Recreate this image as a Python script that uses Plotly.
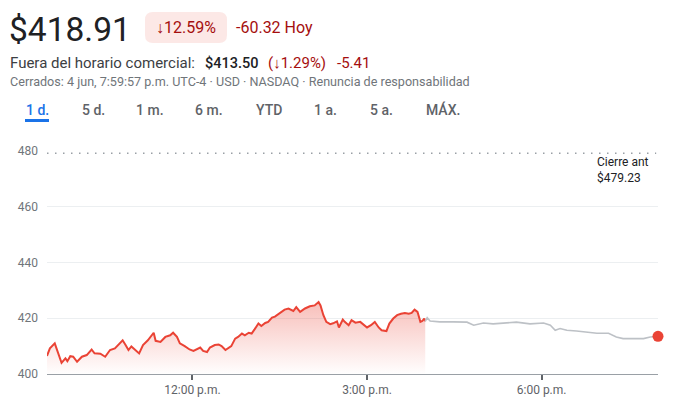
import plotly.graph_objects as go

# ---------------- data ----------------
DAY = "2024-06-04 "
session_times = ["09:30", "09:33", "09:38", "09:42", "09:45", "09:49", "09:51", "09:54", "09:57", "10:01",
                 "10:06", "10:11", "10:16", "10:19", "10:25", "10:30", "10:35", "10:40", "10:45", "10:48",
                 "10:51", "10:54", "10:57", "11:01", "11:05", "11:09", "11:14", "11:20", "11:22", "11:27",
                 "11:32", "11:37", "11:40", "11:44", "11:47", "11:52", "11:57", "12:01", "12:04", "12:08",
                 "12:11", "12:15", "12:18", "12:23", "12:27", "12:30", "12:34", "12:37", "12:40", "12:44",
                 "12:47", "12:51", "12:54", "12:58", "13:01", "13:04", "13:08", "13:11", "13:15", "13:18",
                 "13:22", "13:25", "13:28", "13:32", "13:35", "13:39", "13:44", "13:47", "13:51", "13:56",
                 "14:01", "14:06", "14:10", "14:12", "14:15", "14:18", "14:22", "14:25", "14:29", "14:31",
                 "14:35", "14:37", "14:41", "14:44", "14:48", "14:53", "14:56", "15:00", "15:04", "15:08",
                 "15:12", "15:15", "15:20", "15:23", "15:27", "15:31", "15:35", "15:39", "15:43", "15:46",
                 "15:49", "15:52", "15:55", "15:57", "15:59", "16:00"]
session_prices = [406.5, 409.2, 411.0, 407.4, 404.0, 405.6, 404.6, 406.4, 406.2, 404.4,
                  406.2, 406.8, 408.8, 407.4, 407.3, 406.2, 408.6, 409.2, 411.2, 412.1,
                  410.4, 408.6, 409.9, 408.6, 407.4, 410.4, 412.1, 414.8, 411.9, 411.5,
                  413.3, 413.9, 414.8, 413.3, 411.0, 410.0, 408.8, 408.3, 408.8, 409.5,
                  408.3, 407.9, 409.5, 410.4, 410.6, 410.0, 408.6, 409.2, 410.0, 412.7,
                  413.3, 414.5, 413.9, 414.8, 414.5, 416.0, 418.1, 417.2, 418.3, 418.7,
                  420.2, 420.6, 421.4, 422.3, 423.1, 423.5, 422.6, 424.0, 422.3, 423.5,
                  424.3, 424.6, 425.8, 424.6, 421.1, 418.7, 417.9, 418.2, 418.9, 416.7,
                  419.5, 418.7, 417.5, 419.3, 418.4, 418.7, 417.9, 416.7, 417.5, 418.7,
                  416.7, 415.7, 415.4, 418.1, 419.9, 421.1, 421.6, 421.9, 421.6, 421.9,
                  423.1, 422.3, 418.7, 419.0, 419.9, 418.91]

after_times = ["16:00", "16:02", "16:05", "16:15", "16:29", "16:43", "16:50", "17:00", "17:10", "17:24",
               "17:34", "17:48", "18:02", "18:09", "18:14", "18:19", "18:26", "18:36", "18:46", "18:57",
               "19:09", "19:17", "19:24", "19:34", "19:45", "19:52", "20:00"]
after_prices = [418.91, 420.2, 419.0, 418.7, 418.7, 418.6, 417.5, 418.3, 418.0, 418.3,
                418.6, 418.0, 418.3, 417.5, 415.7, 416.3, 415.7, 415.4, 415.0, 414.6,
                414.6, 413.3, 412.7, 412.7, 412.7, 413.3, 413.5]

prev_close = 479.23
y_ticks = [400, 420, 440, 460, 480]
x_tick_times = ["12:00", "15:00", "18:00"]
x_tick_labels = ["12:00 p.m.", "3:00 p.m.", "6:00 p.m."]
tabs = ["1 d.", "5 d.", "1 m.", "6 m.", "YTD", "1 a.", "5 a.", "MÁX."]

# ---------------- layout helpers ----------------
W, H = 682, 408
ML, MR, MT, MB = 47, 24, 151, 34
PW, PH = W - ML - MR, H - MT - MB


def px(x):
    return (x - ML) / PW


def py(y):
    return (H - MB - y) / PH


FONT = "Roboto, Arial, sans-serif"
RED = "#ea4335"
DARKRED = "#a50e0e"

fig = go.Figure()

sx = [DAY + t for t in session_times]
ax = [DAY + t for t in after_times]

fig.add_trace(go.Scatter(
    x=sx, y=session_prices, mode="lines",
    line=dict(color=RED, width=2),
    fill="tozeroy",
    fillgradient=dict(type="vertical", start=400, stop=426,
                      colorscale=[[0, "rgba(234,67,53,0)"], [1, "rgba(234,67,53,0.34)"]]),
    hoverinfo="skip", showlegend=False))

fig.add_trace(go.Scatter(
    x=ax, y=after_prices, mode="lines",
    line=dict(color="#bdc1c6", width=1.6),
    hoverinfo="skip", showlegend=False))

fig.add_trace(go.Scatter(
    x=[ax[-1]], y=[after_prices[-1]], mode="markers",
    marker=dict(color=RED, size=11, line=dict(width=0)),
    cliponaxis=False, hoverinfo="skip", showlegend=False))

# previous close dotted line
fig.add_shape(type="line", xref="paper", yref="y", x0=0, x1=0.997, y0=prev_close, y1=prev_close,
              line=dict(color="#9aa0a6", width=1.5, dash="1.5px,6.5px"), layer="above")

# badge
fig.add_shape(type="path", xref="paper", yref="paper", xsizemode="pixel", ysizemode="pixel",
              xanchor=px(186), yanchor=py(27.5),
              path="M -33,-15.5 L 33,-15.5 Q 41,-15.5 41,-7.5 L 41,7.5 Q 41,15.5 33,15.5 "
                   "L -33,15.5 Q -41,15.5 -41,7.5 L -41,-7.5 Q -41,-15.5 -33,-15.5 Z",
              fillcolor="#fce8e6", line=dict(width=0))
# tab underline
fig.add_shape(type="path", xref="paper", yref="paper", xsizemode="pixel", ysizemode="pixel",
              xanchor=px(37), yanchor=py(120.5),
              path="M -12,-1.5 L 12,-1.5 L 12,1.5 L -12,1.5 Z",
              fillcolor="#1a73e8", line=dict(width=0))


def txt(x, y, text, size, color, anchor="left", weight=None):
    f = dict(family=FONT, size=size, color=color)
    if weight:
        f["weight"] = weight
    fig.add_annotation(x=px(x), y=py(y), xref="paper", yref="paper", text=text,
                       showarrow=False, xanchor=anchor, yanchor="middle", font=f,
                       align="left")


txt(7, 29, "$418.91", 33.5, "#202124")
txt(186, 28, "↓12.59%", 16, DARKRED, anchor="center")
txt(234, 28, "-60.32 Hoy", 16, DARKRED)
txt(8, 63, "Fuera del horario comercial:", 15, "#3c4043")
txt(203, 63, "$413.50", 14.5, "#202124", weight=500)
txt(266, 63, "(↓1.29%)", 15, DARKRED)
txt(335, 63, "-5.41", 15, DARKRED)
txt(8, 81, "Cerrados: 4 jun, 7:59:57 p.m. UTC-4 · USD · NASDAQ · Renuncia de responsabilidad", 12.6, "#70757a")

tab_x = [37, 93, 150, 209, 269, 325, 381, 443]
for i, (t, xx) in enumerate(zip(tabs, tab_x)):
    txt(xx, 110, t, 14, "#1a73e8" if i == 0 else "#5f6368", anchor="center", weight=500)

fig.add_annotation(x=px(595), y=py(170), xref="paper", yref="paper",
                   text="Cierre ant<br>$" + f"{prev_close:.2f}", showarrow=False,
                   xanchor="left", yanchor="middle", align="left",
                   font=dict(family=FONT, size=12, color="#202124"))

fig.update_layout(
    width=W, height=H,
    margin=dict(l=ML, r=MR, t=MT, b=MB, pad=0),
    paper_bgcolor="white", plot_bgcolor="white",
    font=dict(family=FONT),
    xaxis=dict(type="date", range=[DAY + "09:30", DAY + "20:00"],
               tickvals=[DAY + t for t in x_tick_times], ticktext=x_tick_labels,
               showgrid=False, showline=True, linecolor="#9aa0a6", linewidth=1,
               ticks="outside", ticklen=5, tickwidth=2, tickcolor="#5f6368",
               tickfont=dict(family=FONT, size=12, color="#5f6368"), zeroline=False),
    yaxis=dict(range=[400, 480], tickvals=y_ticks, showgrid=True, gridcolor="#eceff1",
               gridwidth=1, zeroline=False, showline=False, ticks="",
               ticklabelstandoff=8,
               tickfont=dict(family=FONT, size=12, color="#70757a")),
)

fig.write_html("out.html")
